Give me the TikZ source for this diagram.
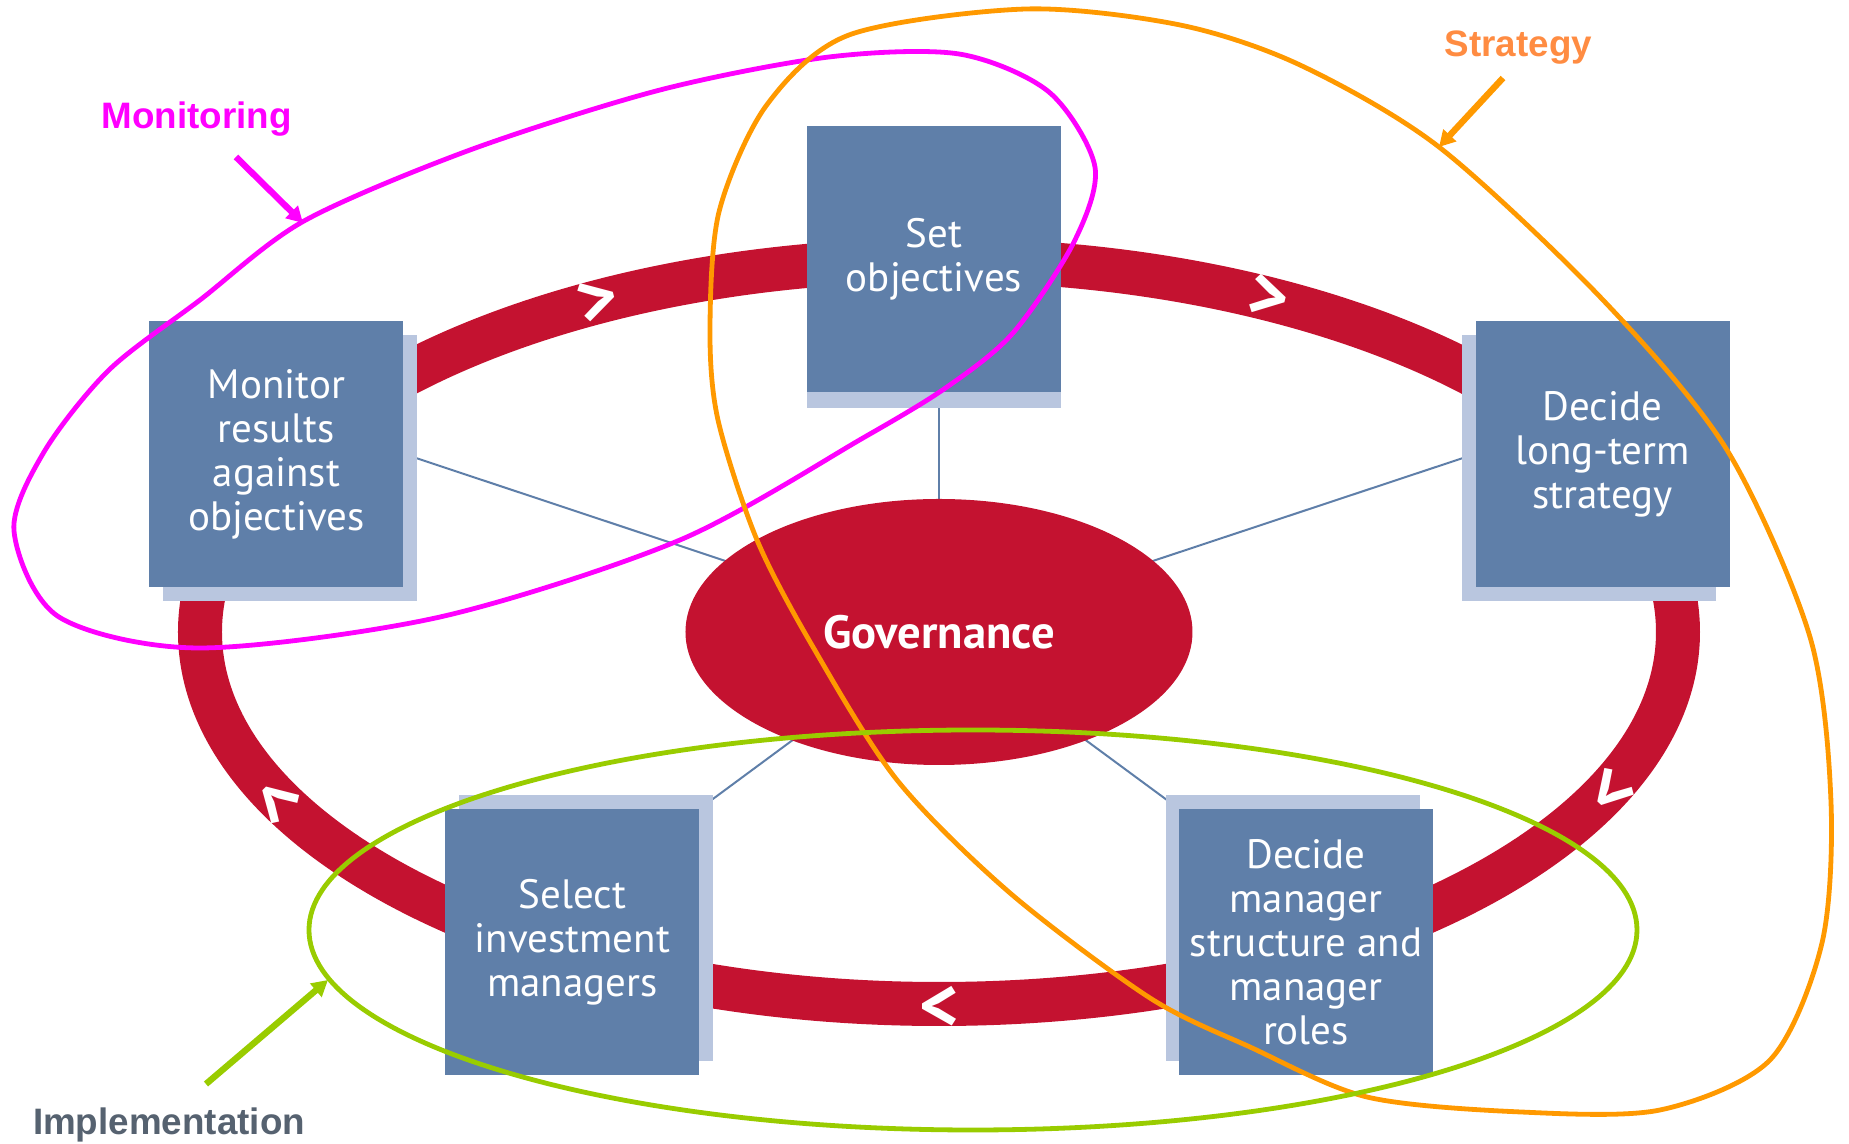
\documentclass[tikz,border=0pt]{standalone}
\usepackage{fontspec}
\setmainfont{PT Sans}
\newfontfamily\calloutfont{Liberation Sans}
\usepackage{tikz}
\usetikzlibrary{arrows.meta}
\usetikzlibrary{shapes}
\usetikzlibrary{shadows}
\usetikzlibrary{backgrounds}

\definecolor{boxblue}{RGB}{95,127,169}
\definecolor{shadeblue}{RGB}{185,198,223}
\definecolor{ringred}{RGB}{196,18,48}
\definecolor{monmagenta}{RGB}{255,0,255}
\definecolor{stratorange}{RGB}{255,153,0}
\definecolor{strattext}{RGB}{255,140,66}
\definecolor{implgreen}{RGB}{153,204,0}
\definecolor{impltext}{RGB}{86,98,112}

\begin{document}
\begin{tikzpicture}[x=0.5pt, y=0.5pt,
                task/.style={rectangle, fill=boxblue, text=white, align=center, inner sep=0pt,
                             minimum width=127pt, minimum height=133pt,
                             font=\fontsize{20.5}{22}\selectfont},
                boxshadow/.style 2 args={drop shadow={shadow xshift=#1, shadow yshift=#2, fill=shadeblue, opacity=1}},
                hub/.style={ellipse, fill=ringred, text=white, inner sep=0pt,
                            minimum width=253.5pt, minimum height=133pt,
                            font=\fontsize{23.3}{24}\selectfont\bfseries},
                ring/.style={draw=ringred, line width=22pt},
                spoke/.style={draw=boxblue, line width=1pt},
                chev/.style={text=white, inner sep=0pt, font=\fontsize{38}{38}\selectfont\bfseries},
                lasso/.style={line width=2.4pt},
                grouplabel/.style={anchor=base, inner sep=0pt, font=\calloutfont\fontsize{18.4}{20}\selectfont\bfseries},
                pointer/.style={line width=3.2pt, -{Triangle[length=8pt,width=8.5pt]}}
            ]
            \useasboundingbox (-939,-512) rectangle (910,632);

            % the five steps and the hub
            \node[task, boxshadow={0pt}{-8pt}] (setobj) at (-5,373) {Set\\objectives};
            \node[task, boxshadow={7pt}{-7pt}] (monres) at (-662.5,178) {Monitor\\results\\against\\objectives};
            \node[task, boxshadow={-7pt}{-7pt}] (ltstrat) at (663.5,178) {Decide\\long-term\\strategy};
            \node[task, boxshadow={7pt}{7pt}] (selmgr) at (-366.5,-310) {Select\\investment\\managers};
            \node[task, boxshadow={-6.5pt}{7pt}] (mgrroles) at (367,-310) {Decide\\manager\\structure and\\manager\\roles};
            \node[hub] (gov) at (0,0) {Governance};

            \begin{scope}[on background layer]
                \draw[ring] (0,0) ellipse [x radius=739, y radius=372];
                \path[spoke] (gov.center) -- (gov.center |- setobj.south);
                \path[spoke] (gov.center) -- (monres.east);
                \path[spoke] (gov.center) -- (ltstrat.west);
                \path[spoke] (gov.center) -- (selmgr.north east);
                \path[spoke] (gov.center) -- (mgrroles.north west);
            \end{scope}

            % direction marks on the ring
            \node[chev, rotate=14.7] (ch1) at (117.5:739 and 372) {>};
            \node[chev, rotate=-14.1] (ch2) at (63.5:739 and 372) {>};
            \node[chev, rotate=-132.8] (ch3) at (-25:739 and 372) {>};
            \node[chev, rotate=180] (ch4) at (-90:739 and 372) {>};
            \node[chev, rotate=134.8] (ch5) at (206.7:739 and 372) {>};

            % groupings
            \draw[lasso, draw=monmagenta] plot[smooth cycle] coordinates {
                (-925,101) (-895,180) (-830,262) (-739,332) (-635,411) (-469,482) (-279,542)
                (-110,575) (20,578) (110,540) (156,465) (135,390) (74,299)
                (8,245) (-76,194) (-259,92) (-499,15) (-739,-16) (-880,15)};
            \draw[lasso, draw=stratorange] plot[smooth cycle] coordinates {
                (87,623) (241,607) (361,567) (500,485) (664,332) (788,182)
                (871,-5) (892,-170) (883,-311) (831,-428) (721,-478) (582,-480)
                (428,-465) (311,-415) (211,-366) (71,-261) (-42,-148) (-126,-15)
                (-182,92) (-221,212) (-229,302) (-220,420) (-173,526) (-90,597)};
            \draw[lasso, draw=implgreen] (34,-298) ellipse [x radius=664, y radius=200];

            \node[grouplabel, text=monmagenta] (monlbl) at (-742.5,503) {Monitoring};
            \node[grouplabel, text=strattext] (stratlbl) at (579.5,575) {Strategy};
            \node[grouplabel, text=impltext] (impllbl) at (-770,-503) {Implementation};

            \coordinate (monfrom) at (-703,475);
            \coordinate (monto) at (-636,409);
            \coordinate (stratfrom) at (564,554);
            \coordinate (stratto) at (500,485);
            \coordinate (implfrom) at (-733,-452);
            \coordinate (implto) at (-611,-348);
            \draw[pointer, monmagenta] (monfrom) -- (monto);
            \draw[pointer, stratorange] (stratfrom) -- (stratto);
            \draw[pointer, implgreen] (implfrom) -- (implto);
\end{tikzpicture}
\end{document}
